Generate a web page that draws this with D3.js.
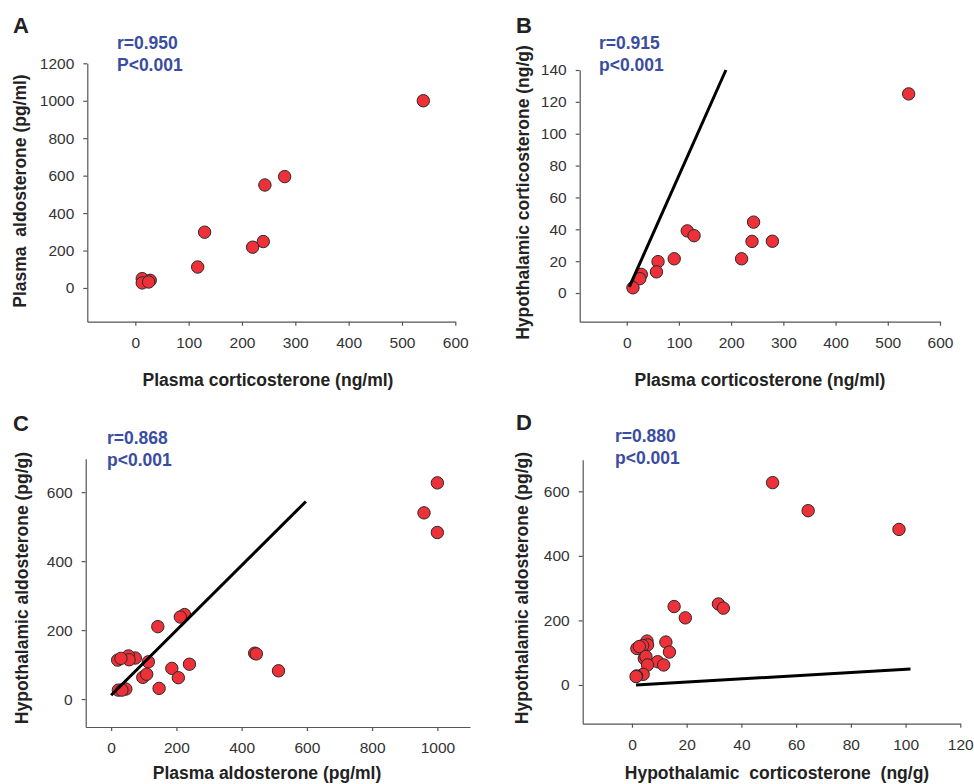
<!DOCTYPE html>
<meta charset="utf-8">
<style>
  body { margin: 0; background: #fff; }
  svg { display: block; font-family: "Liberation Sans", Arial, sans-serif; }
  .domain, .tick line { stroke: #555; stroke-width: 1.2; }
  .title { font-weight: bold; font-size: 17.5px; fill: #222; white-space: pre; }
  .letter { font-weight: bold; font-size: 22px; fill: #222; }
  .stat { font-weight: bold; font-size: 17.5px; fill: #3a4da0; }
  .dot { fill: #ee3039; stroke: #2a2a2a; stroke-width: 1; }
  .fit { stroke: #000; stroke-width: 3; fill: none; }
</style>
<body>
<script src="https://d3js.org/d3.v7.min.js"></script>
<script>
// A: plasma corticosterone vs plasma aldosterone
var aPlasmaCort = [540, 280, 243, 130, 240, 220, 117, 13, 28, 13, 25];
var aPlasmaAldo = [1000, 595, 550, 298, 248, 218, 112, 50, 41, 27, 32];

// B: plasma corticosterone vs hypothalamic corticosterone
var bPlasmaCort = [540, 243, 240, 279, 220, 116, 129, 91, 60, 57, 28, 25, 12];
var bHypoCort   = [125, 44.5, 32.4, 32.5, 21.5, 39, 36, 21.5, 19.7, 13.3, 11.7, 9, 3.3];
var bFit = [[5, 3.8], [190, 140]];

// C: plasma aldosterone vs hypothalamic aldosterone
var cPlasmaAldo = [1000, 959, 1000, 513, 440, 445, 240, 225, 212, 143, 186, 206, 147,
                   114, 97, 109, 74, 53, 55, 20, 30, 45, 22, 33];
var cHypoAldo   = [627, 540, 483, 82, 133, 131, 101, 245, 238, 210, 89, 62, 31,
                   108, 63, 72, 119, 125, 114, 113, 118, 29, 26, 26];
var cFit = [[0, 11], [597, 573]];

// D: hypothalamic corticosterone vs hypothalamic aldosterone
var dHypoCort = [51.4, 64.4, 97.6, 15.4, 19.5, 31.6, 33.4, 12.4, 13.7, 9.4, 11.6,
                 5.5, 5.7, 3.9, 1.8, 2.7, 4.5, 5.1, 5.7, 4.1, 1.7, 1.5];
var dHypoAldo = [627, 540, 482, 243, 208, 251, 238, 133, 102, 72, 62,
                 136, 124, 122, 113, 119, 82, 88, 62, 33, 28, 26];
var dFit = [[1.5, 0], [101.8, 49.5]];

var ticksCort600 = [0, 100, 200, 300, 400, 500, 600];
var ticksAldo1200 = [0, 200, 400, 600, 800, 1000, 1200];
var ticksHypoCort140 = [0, 20, 40, 60, 80, 100, 120, 140];
var ticksAldo1000 = [0, 200, 400, 600, 800, 1000];
var ticksHypoAldo = [0, 200, 400, 600];
var ticksHypoCort120 = [0, 20, 40, 60, 80, 100, 120];

var W = 974, H = 784;
var svg = d3.select("body").append("svg").attr("width", W).attr("height", H);

var panels = [
  { letter: "A", lx: 13, ly: 33, xs: aPlasmaCort, ys: aPlasmaAldo, fit: null,
    xDom: [-90, 600], yDom: [-180, 1200], xr: [87.3, 455.3], yr: [321.7, 63.3],
    xt: ticksCort600, yt: ticksAldo1200,
    stat: ["r=0.950", "P<0.001"], sx: 117, sy: 49,
    xTitle: "Plasma corticosterone (ng/ml)", xTx: 268, xTy: 386,
    yTitle: "Plasma  aldosterone (pg/ml)", yTx: 26, yTy: 191 },
  { letter: "B", lx: 516, ly: 33, xs: bPlasmaCort, ys: bHypoCort, fit: bFit,
    xDom: [-90, 600], yDom: [-18, 140], xr: [579.7, 940], yr: [321.7, 70],
    xt: ticksCort600, yt: ticksHypoCort140,
    stat: ["r=0.915", "p<0.001"], sx: 599, sy: 49,
    xTitle: "Plasma corticosterone (ng/ml)", xTx: 760, xTy: 386,
    yTitle: "Hypothalamic corticosterone (ng/g)", yTx: 528.5, yTy: 192.5 },
  { letter: "C", lx: 13, ly: 431, xs: cPlasmaAldo, ys: cHypoAldo, fit: cFit,
    xDom: [-78, 1100], yDom: [-81, 697], xr: [85.7, 470], yr: [727, 458.7],
    xt: ticksAldo1000, yt: ticksHypoAldo,
    stat: ["r=0.868", "p<0.001"], sx: 107, sy: 443.7,
    xTitle: "Plasma aldosterone (pg/ml)", xTx: 267, xTy: 779,
    yTitle: "Hypothalamic aldosterone (pg/g)", yTx: 27.5, yTy: 588 },
  { letter: "D", lx: 516, ly: 430, xs: dHypoCort, ys: dHypoAldo, fit: dFit,
    xDom: [-18, 120], yDom: [-120, 698], xr: [582.7, 960.3], yr: [723.7, 459.7],
    xt: ticksHypoCort120, yt: ticksHypoAldo,
    stat: ["r=0.880", "p<0.001"], sx: 615, sy: 442,
    xTitle: "Hypothalamic  corticosterone  (ng/g)", xTx: 777, xTy: 779,
    yTitle: "Hypothalamic aldosterone (pg/g)", yTx: 528, yTy: 588 }
];

function styleTicks(a) {
  a.attr("font-family", null).attr("font-size", null);
  a.selectAll(".tick text")
      .style("font-size", "15.5px")
      .style("font-family", "'Liberation Sans', Arial, sans-serif")
      .style("fill", "#333");
}

panels.forEach(function(p) {
  var x = d3.scaleLinear().domain(p.xDom).range(p.xr);
  var y = d3.scaleLinear().domain(p.yDom).range(p.yr);
  var g = svg.append("g");

  g.append("g")
      .attr("transform", "translate(0," + p.yr[0] + ")")
      .call(d3.axisBottom(x).tickValues(p.xt).tickFormat(d3.format("d"))
        .tickSize(4).tickSizeOuter(0).tickPadding(11))
      .call(styleTicks);

  g.append("g")
      .attr("transform", "translate(" + p.xr[0] + ",0)")
      .call(d3.axisLeft(y).tickValues(p.yt).tickFormat(d3.format("d"))
        .tickSize(4).tickSizeOuter(0).tickPadding(9))
      .call(styleTicks);

  var pts = p.xs.map(function(v, i) { return [v, p.ys[i]]; });
  g.append("g").selectAll("circle")
      .data(pts)
    .enter().append("circle")
      .attr("class", "dot")
      .attr("cx", function(d) { return x(d[0]); })
      .attr("cy", function(d) { return y(d[1]); })
      .attr("r", 6.2);

  if (p.fit) {
    g.append("path")
        .datum(p.fit)
        .attr("class", "fit")
        .attr("d", d3.line().x(function(d) { return x(d[0]); }).y(function(d) { return y(d[1]); }));
  }

  g.append("text").attr("class", "letter").attr("x", p.lx).attr("y", p.ly).text(p.letter);

  g.append("text").attr("class", "stat").attr("x", p.sx).attr("y", p.sy).text(p.stat[0]);
  g.append("text").attr("class", "stat").attr("x", p.sx).attr("y", p.sy + 22).text(p.stat[1]);

  g.append("text").attr("class", "title")
      .attr("x", p.xTx).attr("y", p.xTy)
      .attr("text-anchor", "middle")
      .text(p.xTitle);

  g.append("text").attr("class", "title")
      .attr("transform", "translate(" + p.yTx + "," + p.yTy + ") rotate(-90)")
      .attr("text-anchor", "middle")
      .text(p.yTitle);
});
</script>
</body>
</html>
